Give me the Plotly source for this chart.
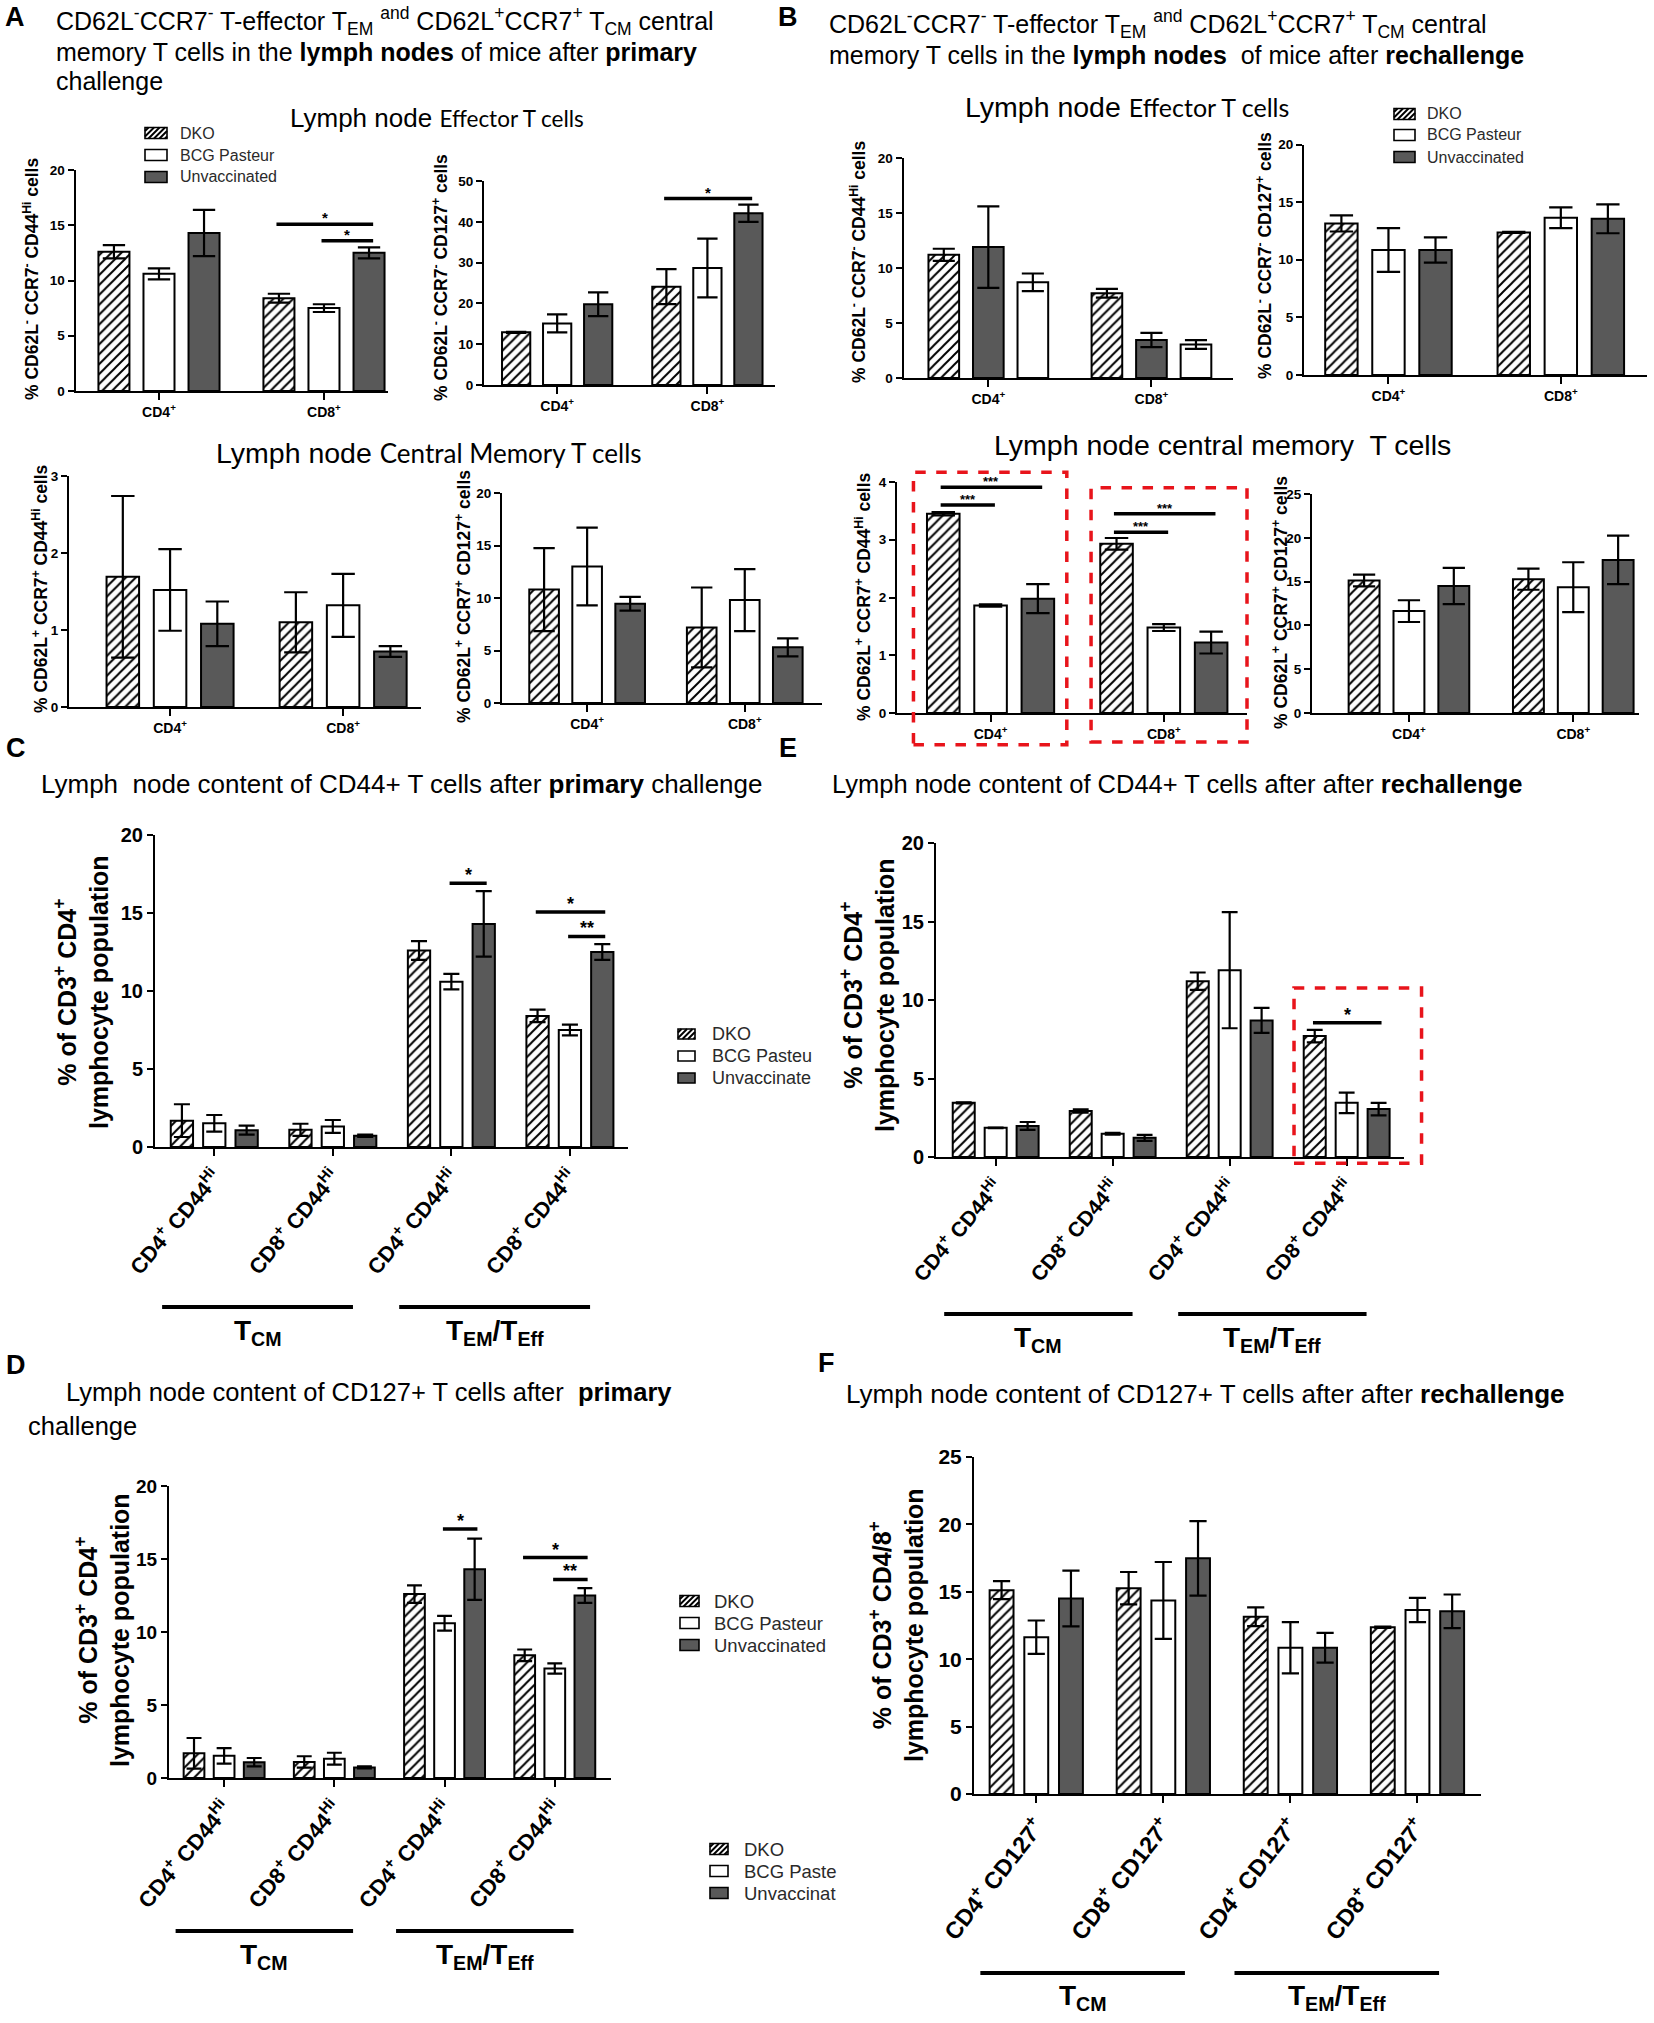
import plotly.graph_objects as go

W, H = 1654, 2023

# ---------------- data ----------------
series_names = ["DKO", "BCG Pasteur", "Unvaccinated"]
groups_ab = ["CD4<sup>+</sup>", "CD8<sup>+</sup>"]
groups_44 = ["CD4<sup>+</sup> CD44<sup>Hi</sup>", "CD8<sup>+</sup> CD44<sup>Hi</sup>",
             "CD4<sup>+</sup> CD44<sup>Hi</sup>", "CD8<sup>+</sup> CD44<sup>Hi</sup>"]
groups_127 = ["CD4<sup>+</sup> CD127<sup>+</sup>", "CD8<sup>+</sup> CD127<sup>+</sup>",
              "CD4<sup>+</sup> CD127<sup>+</sup>", "CD8<sup>+</sup> CD127<sup>+</sup>"]

# primary challenge - effector (CD62L- CCR7- CD44hi)
prim_eff44_dko = [12.6, 8.4];   prim_eff44_dko_err = [0.6, 0.4]
prim_eff44_bcg = [10.6, 7.5];   prim_eff44_bcg_err = [0.5, 0.35]
prim_eff44_unv = [14.3, 12.5];  prim_eff44_unv_err = [2.1, 0.5]
# primary challenge - effector (CD62L- CCR7- CD127+)
prim_eff127_dko = [12.9, 24.1]; prim_eff127_dko_err = [0.15, 4.3]
prim_eff127_bcg = [15.1, 28.7]; prim_eff127_bcg_err = [2.2, 7.2]
prim_eff127_unv = [19.8, 42.1]; prim_eff127_unv_err = [2.9, 2.1]
# primary challenge - central memory (CD62L+ CCR7+ CD44hi)
prim_cm44_dko = [1.69, 1.10];   prim_cm44_dko_err = [1.05, 0.39]
prim_cm44_bcg = [1.52, 1.32];   prim_cm44_bcg_err = [0.53, 0.41]
prim_cm44_unv = [1.08, 0.72];   prim_cm44_unv_err = [0.29, 0.07]
# primary challenge - central memory (CD62L+ CCR7+ CD127+)
prim_cm127_dko = [10.8, 7.2];   prim_cm127_dko_err = [3.95, 3.8]
prim_cm127_bcg = [13.0, 9.8];   prim_cm127_bcg_err = [3.7, 2.95]
prim_cm127_unv = [9.45, 5.3];   prim_cm127_unv_err = [0.65, 0.85]
# rechallenge - effector (CD44hi)
re_eff44_dko = [11.2, 7.7];     re_eff44_dko_err = [0.55, 0.4]
re_eff44_bcg = [11.9, 3.45];    re_eff44_bcg_err = [3.7, 0.65]
re_eff44_unv = [8.7, 3.05];     re_eff44_unv_err = [0.8, 0.4]
# rechallenge - effector (CD127+)
re_eff127_dko = [13.15, 12.37]; re_eff127_dko_err = [0.7, 0.05]
re_eff127_bcg = [10.85, 13.65]; re_eff127_bcg_err = [1.9, 0.9]
re_eff127_unv = [10.85, 13.55]; re_eff127_unv_err = [1.1, 1.25]
# rechallenge - central memory (CD44hi)
re_cm44_dko = [3.45, 2.93];     re_cm44_dko_err = [0.03, 0.1]
re_cm44_bcg = [1.86, 1.48];     re_cm44_bcg_err = [0.02, 0.06]
re_cm44_unv = [1.98, 1.22];     re_cm44_unv_err = [0.25, 0.19]
# rechallenge - central memory (CD127+)
re_cm127_dko = [15.12, 15.27];  re_cm127_dko_err = [0.67, 1.2]
re_cm127_bcg = [11.63, 14.36];  re_cm127_bcg_err = [1.24, 2.85]
re_cm127_unv = [14.5, 17.48];   re_cm127_unv_err = [2.07, 2.77]

# ---------------- styling ----------------
DARK = "#595959"
SLOT = 0.273
BW = 0.188
FA = "Liberation Sans, Arial, sans-serif"
FC = "Lato, Carlito, Calibri, sans-serif"


def marker_for(style):
    m = dict(line=dict(color="black", width=2))
    if style == "hatch":
        m["color"] = "white"
        m["pattern"] = dict(shape="/", fgcolor="black", bgcolor="white", size=7, solidity=0.28)
    elif style == "white":
        m["color"] = "white"
    else:
        m["color"] = DARK
    return m


fig = go.Figure()
layout = {}
ann = []
shp = []
panels = {}


def d2p(p, x, y):
    (x0, x1), (yt, yb) = p["xpx"], p["ypx"]
    xr, yr = p["xr"], p["yr"]
    X = x0 + (x - xr[0]) / (xr[1] - xr[0]) * (x1 - x0)
    Y = yb - (y - yr[0]) / (yr[1] - yr[0]) * (yb - yt)
    return X / W, 1 - Y / H


def add_panel(key, n, xpx, ypx, xr, yr, dtick, ticktext, series, tsize, angle=0, ysize=None):
    p = dict(xpx=xpx, ypx=ypx, xr=xr, yr=yr)
    panels[key] = p
    xs = "x" if n == 1 else f"x{n}"
    ys = "y" if n == 1 else f"y{n}"
    ng = len(ticktext)
    px_per_cat = (xpx[1] - xpx[0]) / (xr[1] - xr[0])
    cap = max(5, 0.36 * BW * px_per_cat)
    for k, (vals, errs, style) in enumerate(series):
        xsv = [g + (k - 1) * SLOT for g in range(ng)]
        fig.add_trace(go.Bar(
            x=xsv, y=vals, width=BW, marker=marker_for(style), showlegend=False,
            error_y=dict(type="data", array=errs, visible=True, color="black",
                         thickness=2.2, width=cap),
            xaxis=xs, yaxis=ys, hoverinfo="skip"))
    axcommon = dict(showline=True, linecolor="black", linewidth=2, ticks="outside",
                    tickcolor="black", tickwidth=2, showgrid=False, zeroline=False)
    layout["xaxis" if n == 1 else f"xaxis{n}"] = dict(
        axcommon, domain=[xpx[0] / W, xpx[1] / W], range=xr, anchor=ys,
        tickmode="array", tickvals=list(range(ng)), ticktext=ticktext, ticklen=7,
        tickangle=angle, tickfont=dict(family=FA, size=tsize, color="black", weight="bold"))
    layout["yaxis" if n == 1 else f"yaxis{n}"] = dict(
        axcommon, domain=[1 - ypx[1] / H, 1 - ypx[0] / H], range=yr, anchor=xs,
        tick0=0, dtick=dtick, ticklen=6,
        tickfont=dict(family=FA, size=ysize or tsize, color="black", weight="bold"))


def text(x, y, s, size, family=FA, xanchor="left", yanchor="middle", angle=0, color="black"):
    ann.append(dict(x=x / W, y=1 - y / H, xref="paper", yref="paper", text=s, showarrow=False,
                    xanchor=xanchor, yanchor=yanchor, textangle=angle,
                    font=dict(family=family, size=size, color=color)))


def sig(key, g, k1, k2, yval, label, size=15):
    p = panels[key]
    xa = g + (k1 - 1) * SLOT - 0.015
    xb = g + (k2 - 1) * SLOT + 0.025
    x0, y0 = d2p(p, xa, yval)
    x1, _ = d2p(p, xb, yval)
    shp.append(dict(type="line", xref="paper", yref="paper", x0=x0, x1=x1, y0=y0, y1=y0,
                    line=dict(color="black", width=3.5)))
    ann.append(dict(x=(x0 + x1) / 2, y=y0, xref="paper", yref="paper", text="<b>" + label + "</b>",
                    showarrow=False, xanchor="center", yanchor="bottom", yshift=-4,
                    font=dict(family=FA, size=size, color="black")))


def red_box(key, g, dx0, dx1, ytop, ybot):
    p = panels[key]
    x0, y0 = d2p(p, g + dx0, ybot)
    x1, y1 = d2p(p, g + dx1, ytop)
    shp.append(dict(type="rect", xref="paper", yref="paper", x0=x0, x1=x1, y0=y0, y1=y1,
                    line=dict(color="#e8141b", width=3.5, dash="dash"), fillcolor="rgba(0,0,0,0)"))


def group_lines(key, ylinepx, ylabpx, size=28):
    p = panels[key]
    for g0, g1, lab in [(0, 1, "<b>T<sub>CM</sub></b>"), (2, 3, "<b>T<sub>EM</sub>/T<sub>Eff</sub></b>")]:
        xa, _ = d2p(p, g0 - 0.44, 0)
        xb, _ = d2p(p, g1 + 0.17, 0)
        yl = 1 - ylinepx / H
        shp.append(dict(type="line", xref="paper", yref="paper", x0=xa, x1=xb, y0=yl, y1=yl,
                        line=dict(color="black", width=4)))
        ann.append(dict(x=(xa + xb) / 2, y=1 - ylabpx / H, xref="paper", yref="paper", text=lab,
                        showarrow=False, xanchor="center", yanchor="middle",
                        font=dict(family=FA, size=size, color="black")))


def pline(xa, ya, xb, yb, w=1.3):
    shp.append(dict(type="line", xref="paper", yref="paper", x0=xa / W, x1=xb / W,
                    y0=1 - ya / H, y1=1 - yb / H, line=dict(color="black", width=w)))


def legend_box(x0, rows, sw, sh, textx, size, labels, styles=("hatch", "white", "dark")):
    for yc, lab, st in zip(rows, labels, styles):
        y0, y1 = yc - sh / 2, yc + sh / 2
        fill = DARK if st == "dark" else "white"
        shp.append(dict(type="rect", xref="paper", yref="paper", x0=x0 / W, x1=(x0 + sw) / W,
                        y0=1 - y1 / H, y1=1 - y0 / H, fillcolor=fill,
                        line=dict(color="black", width=1.6)))
        if st == "hatch":
            s = x0 + y0 + 3.5
            while s < x0 + sw + y1:
                xa = max(x0, s - y1)
                xb = min(x0 + sw, s - y0)
                if xb > xa:
                    pline(xa, s - xa, xb, s - xb, 2)
                s += 5.5
        text(textx, yc, lab, size, color="#2a2a2a")


# ---------------- Panel A ----------------
add_panel("A1", 1, (75.5, 388), (170, 391), [-0.506, 1.388], [0, 20], 5, groups_ab,
          [(prim_eff44_dko, prim_eff44_dko_err, "hatch"),
           (prim_eff44_bcg, prim_eff44_bcg_err, "white"),
           (prim_eff44_unv, prim_eff44_unv_err, "dark")], 14, ysize=13.5)
add_panel("A2", 2, (484, 775), (181, 385), [-0.487, 1.45], [0, 50], 10, groups_ab,
          [(prim_eff127_dko, prim_eff127_dko_err, "hatch"),
           (prim_eff127_bcg, prim_eff127_bcg_err, "white"),
           (prim_eff127_unv, prim_eff127_unv_err, "dark")], 14, ysize=13.5)
add_panel("A3", 3, (69, 421), (476, 707), [-0.584, 1.45], [0, 3], 1, groups_ab,
          [(prim_cm44_dko, prim_cm44_dko_err, "hatch"),
           (prim_cm44_bcg, prim_cm44_bcg_err, "white"),
           (prim_cm44_unv, prim_cm44_unv_err, "dark")], 14, ysize=13.5)
add_panel("A4", 4, (502, 822), (493, 703), [-0.54, 1.49], [0, 20], 5, groups_ab,
          [(prim_cm127_dko, prim_cm127_dko_err, "hatch"),
           (prim_cm127_bcg, prim_cm127_bcg_err, "white"),
           (prim_cm127_unv, prim_cm127_unv_err, "dark")], 14, ysize=13.5)
# ---------------- Panel B ----------------
add_panel("B1", 5, (903.5, 1233), (158, 378), [-0.52, 1.50], [0, 20], 5, groups_ab,
          [(re_eff44_dko, re_eff44_dko_err, "hatch"),
           (re_eff44_bcg, re_eff44_bcg_err, "dark"),
           (re_eff44_unv, re_eff44_unv_err, "white")], 14, ysize=13.5)
add_panel("B2", 6, (1304, 1647), (144.5, 375), [-0.49, 1.5], [0, 20], 5, groups_ab,
          [(re_eff127_dko, re_eff127_dko_err, "hatch"),
           (re_eff127_bcg, re_eff127_bcg_err, "white"),
           (re_eff127_unv, re_eff127_unv_err, "dark")], 14, ysize=13.5)
add_panel("B3", 7, (897, 1247), (482, 713), [-0.54, 1.48], [0, 4], 1, groups_ab,
          [(re_cm44_dko, re_cm44_dko_err, "hatch"),
           (re_cm44_bcg, re_cm44_bcg_err, "white"),
           (re_cm44_unv, re_cm44_unv_err, "dark")], 14, ysize=13.5)
add_panel("B4", 8, (1312, 1639), (494, 713), [-0.59, 1.40], [0, 25], 5, groups_ab,
          [(re_cm127_dko, re_cm127_dko_err, "hatch"),
           (re_cm127_bcg, re_cm127_bcg_err, "white"),
           (re_cm127_unv, re_cm127_unv_err, "dark")], 14, ysize=13.5)
# ---------------- Panels C-F ----------------
add_panel("C", 9, (155, 628), (835, 1147), [-0.5, 3.49], [0, 20], 5, groups_44,
          [(prim_cm44_dko + prim_eff44_dko, prim_cm44_dko_err + prim_eff44_dko_err, "hatch"),
           (prim_cm44_bcg + prim_eff44_bcg, prim_cm44_bcg_err + prim_eff44_bcg_err, "white"),
           (prim_cm44_unv + prim_eff44_unv, prim_cm44_unv_err + prim_eff44_unv_err, "dark")],
          21.5, angle=-50, ysize=20)
add_panel("D", 10, (169, 611), (1486, 1778), [-0.5, 3.51], [0, 20], 5, groups_44,
          [(prim_cm44_dko + prim_eff44_dko, prim_cm44_dko_err + prim_eff44_dko_err, "hatch"),
           (prim_cm44_bcg + prim_eff44_bcg, prim_cm44_bcg_err + prim_eff44_bcg_err, "white"),
           (prim_cm44_unv + prim_eff44_unv, prim_cm44_unv_err + prim_eff44_unv_err, "dark")],
          22, angle=-50, ysize=19)
add_panel("E", 11, (936, 1404), (843, 1157), [-0.51, 3.49], [0, 20], 5, groups_44,
          [(re_cm44_dko + re_eff44_dko, re_cm44_dko_err + re_eff44_dko_err, "hatch"),
           (re_cm44_bcg + re_eff44_bcg, re_cm44_bcg_err + re_eff44_bcg_err, "white"),
           (re_cm44_unv + re_eff44_unv, re_cm44_unv_err + re_eff44_unv_err, "dark")],
          21, angle=-50, ysize=20)
add_panel("F", 12, (974, 1481), (1457, 1794), [-0.49, 3.5], [0, 25], 5, groups_127,
          [(re_cm127_dko + re_eff127_dko, re_cm127_dko_err + re_eff127_dko_err, "hatch"),
           (re_cm127_bcg + re_eff127_bcg, re_cm127_bcg_err + re_eff127_bcg_err, "white"),
           (re_cm127_unv + re_eff127_unv, re_cm127_unv_err + re_eff127_unv_err, "dark")],
          23.5, angle=-52, ysize=21)

# significance bars
sig("A1", 1, 0, 2, 15.1, "*")
sig("A1", 1, 1, 2, 13.6, "*")
sig("A2", 1, 0, 2, 45.7, "*")
sig("B3", 0, 0, 2, 3.91, "***", 13)
sig("B3", 0, 0, 1, 3.60, "***", 13)
sig("B3", 1, 0, 2, 3.45, "***", 13)
sig("B3", 1, 0, 1, 3.13, "***", 13)
sig("C", 2, 1, 2, 16.9, "*", 18)
sig("C", 3, 0, 2, 15.06, "*", 18)
sig("C", 3, 1, 2, 13.5, "**", 18)
sig("D", 2, 1, 2, 17.06, "*", 18)
sig("D", 3, 0, 2, 15.1, "*", 18)
sig("D", 3, 1, 2, 13.6, "**", 18)
sig("E", 3, 0, 2, 8.55, "*", 18)

# red dashed boxes
red_box("B3", 0, -0.445, 0.44, 4.17, -0.55)
red_box("B3", 1, -0.42, 0.48, 3.9, -0.5)
red_box("E", 3, -0.45, 0.64, 10.76, -0.4)

# group bars under C-F
group_lines("C", 1307, 1332)
group_lines("D", 1931, 1956)
group_lines("E", 1314, 1339)
group_lines("F", 1973, 1997)

# legends (drawn as small boxes + text)
legend_box(145, (133, 155, 177), 22, 11, 178, 16, series_names)
legend_box(1394, (114, 135, 157), 21, 11, 1425, 16, series_names)
legend_box(678, (1034, 1056, 1078), 17, 10, 710, 18, ["DKO", "BCG Pasteu", "Unvaccinate"])
legend_box(680, (1601, 1623, 1645), 19, 11, 712, 18.5, series_names)
legend_box(710, (1849, 1871, 1893), 18, 11, 742, 18.5, ["DKO", "BCG Paste", "Unvaccinat"])

# panel letters
for lab, x, y in [("A", 15, 17), ("B", 788, 17), ("C", 16, 748), ("E", 788, 748), ("D", 16, 1365), ("F", 826, 1363)]:
    text(x, y, "<b>" + lab + "</b>", 27, xanchor="center")

# headers
hdr1 = "CD62L<sup>-</sup>CCR7<sup>-</sup> T-effector T<sub>EM</sub> <sup>and</sup> CD62L<sup>+</sup>CCR7<sup>+</sup> T<sub>CM</sub> central"
text(54, 21, hdr1, 25)
text(54, 52, "memory T cells in the <b>lymph nodes</b> of mice after <b>primary</b>", 25)
text(54, 81, "challenge", 25)
text(827, 24, hdr1, 25)
text(827, 55, "memory T cells in the <b>lymph nodes</b>  of mice after <b>rechallenge</b>", 25)
text(437, 118, "Lymph node <span style='font-family:Lato;font-size:22.5px'>Effector T cells</span>", 26, xanchor="center")
text(1127, 107, "Lymph node <span style='font-family:Lato;font-size:25px'>Effector T cells</span>", 28.5, xanchor="center")
text(429, 453, "Lymph node <span style='font-family:Lato;font-size:26px'>Central Memory T cells</span>", 28.5, xanchor="center")
text(1222, 445, "Lymph node central memory  T cells", 28.5, xanchor="center")
text(39, 784, "Lymph  node content of CD44+ T cells after <b>primary</b> challenge", 26)
text(830, 784, "Lymph node content of CD44+ T cells after after <b>rechallenge</b>", 25.5)
text(64, 1392, "Lymph node content of CD127+ T cells after  <b>primary</b>", 25.5)
text(26, 1426, "challenge", 25.5)
text(844, 1394, "Lymph node content of CD127+ T cells after after <b>rechallenge</b>", 26)

# y-axis titles, A/B
yt = [(31, 279, "% CD62L<sup>-</sup> CCR7<sup>-</sup> CD44<sup>Hi</sup> cells"),
      (440, 278, "% CD62L<sup>-</sup> CCR7<sup>-</sup> CD127<sup>+</sup> cells"),
      (40, 589, "% CD62L<sup>+</sup> CCR7<sup>+</sup> CD44<sup>Hi</sup> cells"),
      (463, 597, "% CD62L<sup>+</sup> CCR7<sup>+</sup> CD127<sup>+</sup> cells"),
      (858, 262, "% CD62L<sup>-</sup> CCR7<sup>-</sup> CD44<sup>Hi</sup> cells"),
      (1264, 256, "% CD62L<sup>-</sup> CCR7<sup>-</sup> CD127<sup>+</sup> cells"),
      (863, 597, "% CD62L<sup>+</sup> CCR7<sup>+</sup> CD44<sup>Hi</sup> cells"),
      (1280, 603, "% CD62L<sup>+</sup> CCR7<sup>+</sup> CD127<sup>+</sup> cells")]
for x, y, s in yt:
    text(x, y, "<b>" + s + "</b>", 17.5, xanchor="center", angle=-90)

# y-axis titles, C-F
for x, y, s in [(81, 992, "% of CD3<sup>+</sup> CD4<sup>+</sup>"),
                (102, 1630, "% of CD3<sup>+</sup> CD4<sup>+</sup>"),
                (867, 995, "% of CD3<sup>+</sup> CD4<sup>+</sup>"),
                (896, 1625, "% of CD3<sup>+</sup> CD4/8<sup>+</sup>")]:
    text(x, y, "<b>" + s + "<br>lymphocyte population</b>", 25, xanchor="center", angle=-90)

layout.update(dict(width=W, height=H, margin=dict(l=0, r=0, t=0, b=0), autosize=False,
                   paper_bgcolor="white", plot_bgcolor="white", barmode="overlay",
                   template="none", annotations=ann, shapes=shp, showlegend=False,
                   font=dict(family=FA, color="black")))
fig.update_layout(**layout)
fig.write_html("out.html", config={"displayModeBar": False},
               post_script="document.body.style.margin='0';")
